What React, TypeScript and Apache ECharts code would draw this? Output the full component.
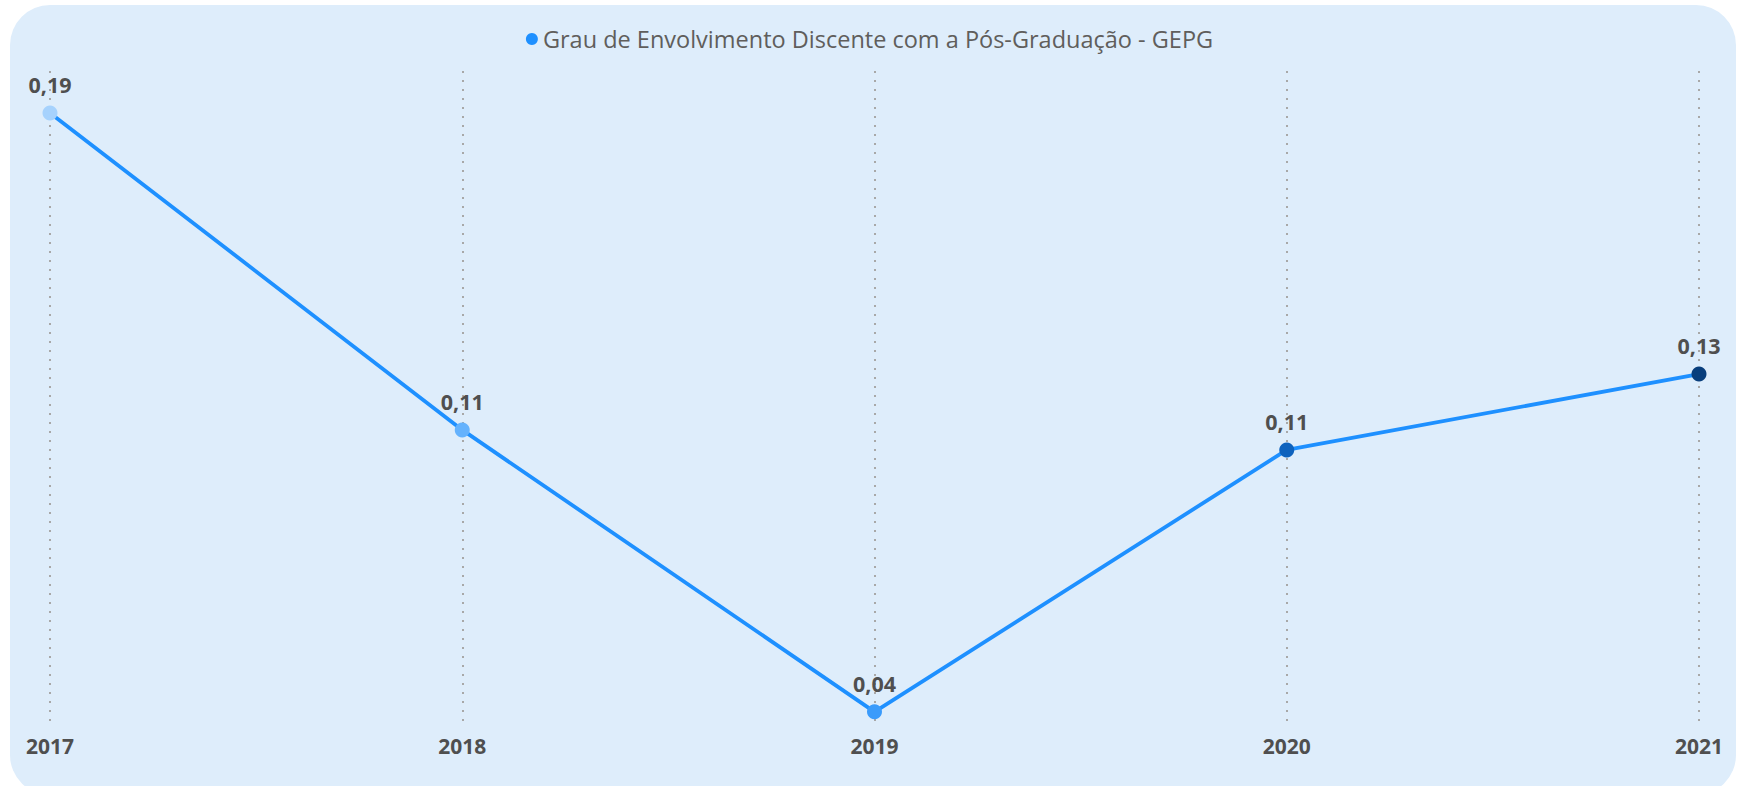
import React, { useEffect, useRef } from "react";
import * as echarts from "echarts";

const years = ["2017", "2018", "2019", "2020", "2021"];
const gepgValues = [0.1915, 0.1121, 0.0415, 0.1071, 0.1261];
const pointColors = ["#a6d2fd", "#64b2fd", "#3a9bfb", "#0e62bd", "#083e7c"];
const seriesName = "Grau de Envolvimento Discente com a Pós-Graduação - GEPG";

export default function App() {
  const ref = useRef<HTMLDivElement>(null);
  useEffect(() => {
    document.body.style.margin = "0";
    const chart = echarts.init(ref.current!, undefined, { renderer: "svg" });
    chart.setOption({
      animation: false,
      backgroundColor: "#ffffff",
      graphic: [
        {
          type: "rect",
          z: -10,
          silent: true,
          shape: { x: 10, y: 5, width: 1726, height: 790, r: 40 },
          style: { fill: "#deedfb" },
        },
      ],
      legend: {
        show: true,
        top: 22,
        left: "center",
        icon: "circle",
        itemWidth: 12,
        itemHeight: 12,
        itemGap: 4,
        textStyle: { fontFamily: "Open Sans", fontSize: 23.5, color: "#605e5c" },
        data: [{ name: seriesName, itemStyle: { color: "#1e90ff" } }],
      },
      grid: { left: 50, right: 40, top: 71, bottom: 59 },
      xAxis: {
        type: "category",
        data: years,
        boundaryGap: false,
        axisLine: { show: false },
        axisTick: { show: false },
        axisLabel: {
          margin: 8,
          fontFamily: "Open Sans",
          fontWeight: "bold",
          fontSize: 21,
          color: "#4f4f4f",
        },
        splitLine: {
          show: true,
          lineStyle: { color: "#a8a8a8", width: 2, type: [2, 7] },
        },
      },
      yAxis: {
        type: "value",
        min: 0.0377,
        max: 0.202,
        show: false,
        splitLine: { show: false },
      },
      series: [
        {
          name: seriesName,
          type: "line",
          data: gepgValues.map((v, i) => ({ value: v, itemStyle: { color: pointColors[i] } })),
          lineStyle: { color: "#1e90ff", width: 3.8 },
          itemStyle: { color: "#1e90ff" },
          symbol: "circle",
          symbolSize: 15,
          showSymbol: true,
          label: {
            show: true,
            position: "top",
            distance: 10,
            fontFamily: "Open Sans",
            fontWeight: "bold",
            fontSize: 21.5,
            color: "#4f4f4f",
            formatter: (p: any) => p.value.toFixed(2).replace(".", ","),
          },
        },
      ],
    });
    return () => chart.dispose();
  }, []);
  return (
    <div
      ref={ref}
      style={{ position: "absolute", left: 0, top: 0, width: 1739, height: 786 }}
    />
  );
}
